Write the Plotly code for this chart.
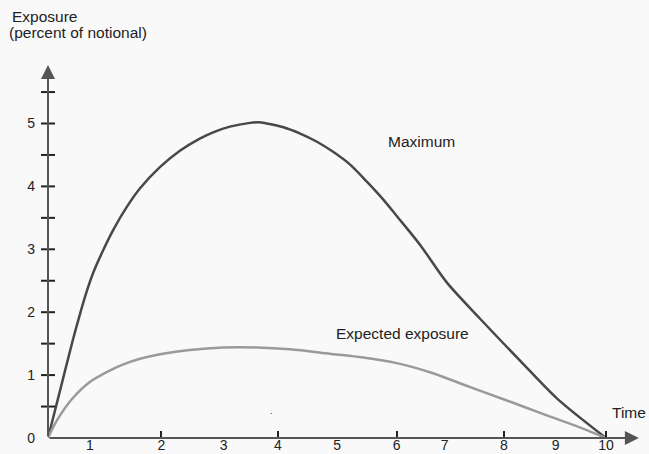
import plotly.graph_objects as go

# ---- data (x on a uniform scale from origin to the "10" tick) ----
max_x = [0, 0.22, 0.443, 0.573, 0.694, 0.812, 0.991, 1.17, 1.41, 1.65, 2.01, 2.37, 2.72, 2.96,
         3.26, 3.62, 3.78, 3.92, 4.22, 4.52, 4.82, 5.11, 5.41, 5.71, 6.01, 6.25, 6.67, 7.15,
         7.74, 8.46, 9.12, 10.0]
max_y = [0, 0.77, 1.55, 1.97, 2.33, 2.63, 2.99, 3.31, 3.67, 3.97, 4.31, 4.57, 4.76, 4.86,
         4.95, 5.01, 5.02, 5.00, 4.94, 4.84, 4.71, 4.55, 4.35, 4.08, 3.79, 3.53, 3.07, 2.47,
         1.90, 1.23, 0.63, 0.0]

exp_x = [0, 0.08, 0.215, 0.45, 0.75, 1.06, 1.35, 1.65, 2.06, 2.54, 3.14, 3.75, 4.34, 5.05, 5.65,
         6.25, 6.90, 7.44, 8.15, 8.94, 9.53, 10.0]
exp_y = [0, 0.15, 0.36, 0.64, 0.89, 1.05, 1.17, 1.26, 1.34, 1.40, 1.44, 1.44, 1.41, 1.34, 1.28,
         1.19, 1.03, 0.85, 0.62, 0.36, 0.17, 0.0]

# tick labels as drawn in the reference
even_tick_pos = [2.03, 4.12, 6.25, 8.17, 10.0]
even_tick_text = ["2", "4", "6", "8", "10"]
odd_tick_pos = [0.75, 3.15, 5.18, 7.11, 9.10]
odd_tick_text = ["1", "3", "5", "7", "9"]
y_tick_vals = [0, 1, 2, 3, 4, 5]
y_tick_text = ["0", "1", "2", "3", "4", "5"]
y_minor_ticks = [0.5, 1, 1.5, 2, 2.5, 3, 3.5, 4, 4.5, 5, 5.5]

X_MAX = 10.61
Y_MAX = 5.93
FONT = "Liberation Sans, Arial, sans-serif"
TXT = "#222222"
AX = "#555555"

fig = go.Figure()

fig.add_trace(go.Scatter(x=max_x, y=max_y, mode="lines",
                         line=dict(color="#484848", width=2.5, shape="spline", smoothing=0.8),
                         cliponaxis=False, hoverinfo="skip", showlegend=False))
fig.add_trace(go.Scatter(x=exp_x, y=exp_y, mode="lines",
                         line=dict(color="#9a9a9a", width=2.5, shape="spline", smoothing=0.8),
                         cliponaxis=False, hoverinfo="skip", showlegend=False, xaxis="x2"))
# crossing tick marks on the y axis
fig.add_trace(go.Scatter(x=[0] * len(y_minor_ticks), y=y_minor_ticks, mode="markers",
                         marker=dict(symbol="line-ew", size=10, line=dict(width=2, color=TXT)),
                         cliponaxis=False, hoverinfo="skip", showlegend=False))

tf = dict(size=14, color=TXT, family=FONT)
af = dict(size=15.5, color=TXT, family=FONT)
ann = [
    # axes drawn as arrows
    dict(x=X_MAX - 0.02, y=0, ax=0, ay=0, xref="x", yref="y", axref="x", ayref="y",
         showarrow=True, arrowhead=2, arrowsize=1.4, arrowwidth=2, arrowcolor=AX, text=""),
    dict(x=0, y=Y_MAX, ax=0, ay=0, xref="x", yref="y", axref="x", ayref="y",
         showarrow=True, arrowhead=2, arrowsize=1.4, arrowwidth=2, arrowcolor=AX, text=""),
    dict(x=6.70, y=4.72, xref="x", yref="y", text="Maximum", showarrow=False, font=af),
    dict(x=6.36, y=1.66, xref="x", yref="y", text="Expected exposure", showarrow=False, font=af),
    dict(x=1.0, y=0.40, xref="paper", yref="y", text="Time", showarrow=False, xanchor="right",
         xshift=8, font=af),
    dict(x=-0.064, y=1.131, xref="paper", yref="paper", text="Exposure", showarrow=False,
         xanchor="left", yanchor="middle", font=af),
    dict(x=-0.0693, y=1.086, xref="paper", yref="paper", text="(percent of notional)", showarrow=False,
         xanchor="left", yanchor="middle", font=af),
    dict(x=4.01, y=0.43, xref="x", yref="y", text=".", showarrow=False,
         font=dict(size=9, color=TXT, family=FONT)),
]

fig.update_layout(
    width=649, height=454,
    margin=dict(l=48, r=9, t=65, b=16, autoexpand=False),
    paper_bgcolor="#f9f9f9", plot_bgcolor="#f9f9f9",
    font=dict(family=FONT, size=14, color=TXT),
    showlegend=False,
    xaxis=dict(range=[0, X_MAX], showgrid=False, zeroline=False, showline=False, automargin=False,
               tickmode="array", tickvals=even_tick_pos, ticktext=even_tick_text,
               ticks="inside", ticklen=7, tickwidth=2, tickcolor=TXT, tickfont=tf,
               ticklabelstandoff=-3),
    xaxis2=dict(range=[0, X_MAX], overlaying="x", anchor="y", side="bottom", automargin=False,
                showgrid=False, zeroline=False, showline=False,
                tickmode="array", tickvals=odd_tick_pos, ticktext=odd_tick_text, ticks="", tickfont=tf,
                ticklabelstandoff=-3),
    yaxis=dict(range=[0, Y_MAX], showgrid=False, zeroline=False, showline=False, automargin=False,
               tickmode="array", tickvals=y_tick_vals, ticktext=y_tick_text, ticks="",
               ticklabelstandoff=12, tickfont=tf),
    annotations=ann,
)

fig.write_html("out.html", config={"displayModeBar": False},
               post_script="document.body.style.margin='0';document.body.style.padding='0';"
                           "document.body.style.overflow='hidden';")
